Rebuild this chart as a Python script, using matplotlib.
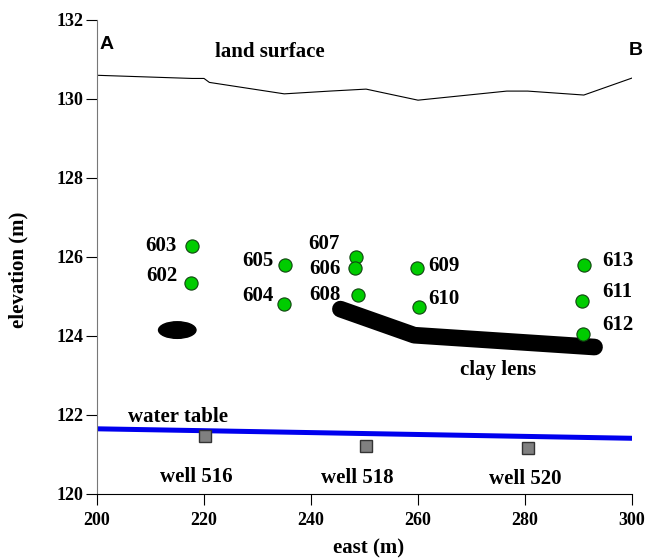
import matplotlib.pyplot as plt
from matplotlib.patches import Ellipse
import numpy as np

# land surface profile
land_x = [200, 217.8, 220, 221, 235, 243.5, 250.3, 260, 276.6, 280.5, 291, 300]
land_y = [130.6, 130.52, 130.52, 130.42, 130.13, 130.2, 130.25, 129.97, 130.2, 130.2, 130.1, 130.53]

# piezometers
piezo_ids = ['603', '602', '605', '604', '607', '606', '608', '609', '610', '613', '611', '612']
piezo_x = [217.8, 217.6, 235.1, 235.0, 248.4, 248.3, 248.8, 259.8, 260.2, 291.0, 290.7, 290.8]
piezo_y = [126.28, 125.34, 125.8, 124.81, 126.0, 125.72, 125.04, 125.72, 124.73, 125.8, 124.89, 124.05]
# label offsets (data units)
label_dx = [-2.9, -2.6, -2.2, -2.1, -3.0, -2.8, -3.2, 2.1, 1.7, 3.4, 3.7, 3.6]
label_dy = [0.0, 0.19, 0.1, 0.19, 0.33, -0.03, 0.01, 0.05, 0.21, 0.1, 0.23, 0.23]

# water table and wells
wt_x = [200, 300]
wt_y = [121.65, 121.41]
well_ids = ['well 516', 'well 518', 'well 520']
well_x = [220.2, 250.3, 280.6]
well_y = [121.47, 121.21, 121.16]
well_lab_x = [218.5, 248.6, 280.0]
well_lab_y = [120.3, 120.28, 120.25]

# clay lenses
lens_x = [245.5, 259.3, 293.0]
lens_y = [124.68, 124.02, 123.72]

fig = plt.figure(figsize=(6.52, 5.6), dpi=100, facecolor='white')
ax = fig.add_axes([0.1488, 0.1179, 0.8205, 0.8464])

SERIF = 'Liberation Serif'
SANS = 'Liberation Sans'

ax.plot(land_x, land_y, color='black', lw=0.8, zorder=2)
ax.plot(wt_x, wt_y, color='#0000ee', lw=3.6, solid_capstyle='round', zorder=2)
ax.plot(lens_x, lens_y, color='black', lw=12, solid_capstyle='round',
        solid_joinstyle='round', zorder=2)
ax.add_patch(Ellipse((215.0, 124.15), 7.0, 0.42, color='black', zorder=2))

ax.plot(well_x, well_y, 's', ms=8.5, mfc='#808080', mec='#333333', mew=1.0,
        ls='none', zorder=3)
ax.plot(piezo_x, piezo_y, 'o', ms=9.5, mfc='#00cc00', mec='#114411', mew=0.8,
        ls='none', zorder=4)

for pid, px, py, dx, dy in zip(piezo_ids, piezo_x, piezo_y, label_dx, label_dy):
    ax.text(px + dx, py + dy, pid, ha='right' if dx < 0 else 'left', va='center',
            fontsize=15, fontweight='bold', family=SERIF)

for wid, wx, wy in zip(well_ids, well_lab_x, well_lab_y):
    ax.text(wx, wy, wid, ha='center', va='baseline',
            fontsize=15, fontweight='bold', family=SERIF)

ax.text(232.3, 131.06, 'land surface', ha='center', va='baseline',
        fontsize=15, fontweight='bold', family=SERIF)
ax.text(205.8, 121.82, 'water table', ha='left', va='baseline',
        fontsize=15, fontweight='bold', family=SERIF)
ax.text(275.0, 123.01, 'clay lens', ha='center', va='baseline',
        fontsize=15, fontweight='bold', family=SERIF)
ax.text(200.5, 131.27, 'A', ha='left', va='baseline',
        fontsize=14, fontweight='bold', family=SANS)
ax.text(302.1, 131.11, 'B', ha='right', va='baseline',
        fontsize=14, fontweight='bold', family=SANS)

ax.set_xlim(200, 300)
ax.set_ylim(120, 132)
ax.set_xticks(np.arange(200, 301, 20))
ax.set_yticks(np.arange(120, 133, 2))
for lab in ax.get_xticklabels() + ax.get_yticklabels():
    lab.set_fontfamily(SERIF)
    lab.set_fontweight('bold')
    lab.set_fontsize(13)
ax.tick_params(direction='out', length=8, width=0.8)
ax.tick_params(axis='x', pad=5)
ax.tick_params(axis='y', pad=2)

ax.set_xlabel('east (m)', fontsize=15, fontweight='bold', family=SERIF)
ax.set_ylabel('elevation (m)', fontsize=15, fontweight='bold', family=SERIF)
ax.xaxis.set_label_coords(0.508, -0.093)
ax.yaxis.set_label_coords(-0.129, 0.473)

ax.spines['top'].set_visible(False)
ax.spines['right'].set_visible(False)
ax.spines['left'].set_color('#777777')
ax.spines['bottom'].set_color('black')

fig.savefig('out.png', dpi=100)
